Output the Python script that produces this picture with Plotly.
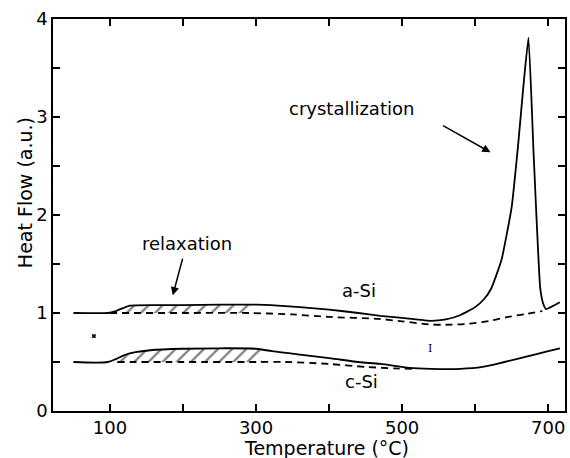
import plotly.graph_objects as go

# a-Si DSC trace
T_a = [50, 97, 108, 118, 127, 160, 200, 250, 300, 330, 360, 400, 440, 470, 500, 540, 560, 580, 600, 612, 622, 636, 650, 659, 666, 673, 680, 689, 693, 697, 706, 716]
H_a = [1.00, 1.00, 1.02, 1.05, 1.075, 1.08, 1.08, 1.085, 1.085, 1.075, 1.06, 1.035, 1.00, 0.97, 0.95, 0.92, 0.935, 0.98, 1.06, 1.14, 1.25, 1.54, 2.08, 2.73, 3.31, 3.81, 2.63, 1.26, 1.10, 1.04, 1.07, 1.11]
# a-Si baseline (dashed)
T_a_base = [100, 200, 290, 350, 400, 468, 500, 536, 560, 591, 620, 645, 670, 692]
H_a_base = [1.00, 1.00, 1.00, 0.985, 0.96, 0.94, 0.915, 0.885, 0.88, 0.89, 0.92, 0.96, 0.99, 1.02]

# c-Si DSC trace
T_c = [50, 97, 108, 120, 135, 155, 200, 250, 300, 322, 360, 400, 440, 470, 510, 540, 580, 610, 640, 670, 700, 716]
H_c = [0.50, 0.50, 0.53, 0.57, 0.60, 0.62, 0.635, 0.64, 0.635, 0.61, 0.575, 0.54, 0.50, 0.48, 0.44, 0.43, 0.43, 0.45, 0.50, 0.555, 0.61, 0.64]
# c-Si baseline (dashed)
T_c_base = [110, 200, 300, 340, 400, 450, 490, 515]
H_c_base = [0.50, 0.50, 0.50, 0.50, 0.48, 0.45, 0.435, 0.43]

# relaxation (hatched) regions
relax_a_T = [105, 115, 127, 160, 200, 250, 295]
relax_a_top = [1.00, 1.04, 1.075, 1.08, 1.08, 1.085, 1.085]
relax_a_bot = [1.00, 1.00, 1.00, 1.00, 1.00, 1.00, 1.00]
relax_c_T = [110, 120, 135, 155, 200, 250, 308]
relax_c_top = [0.51, 0.56, 0.60, 0.62, 0.635, 0.64, 0.63]
relax_c_bot = [0.50, 0.50, 0.50, 0.50, 0.50, 0.50, 0.50]

x_ticks = [100, 300, 500, 700]
x_minor = [200, 400, 600]
y_ticks = [0, 1, 2, 3, 4]
y_minor = [0.5, 1.5, 2.5, 3.5]

FONT = "DejaVu Sans"
LW = 1.8
X_RANGE = [22, 723]
Y_RANGE = [0, 4]

fig = go.Figure()

for T, top, bot in [(relax_a_T, relax_a_top, relax_a_bot), (relax_c_T, relax_c_top, relax_c_bot)]:
    fig.add_trace(go.Scatter(
        x=T + T[::-1], y=top + bot[::-1], mode="lines", fill="toself",
        line=dict(width=0, color="rgba(0,0,0,0)"),
        fillcolor="white",
        fillpattern=dict(shape="/", fgcolor="black", bgcolor="white", size=10, solidity=0.22),
        hoverinfo="skip", showlegend=False))

fig.add_trace(go.Scatter(x=T_a_base, y=H_a_base, mode="lines",
                         line=dict(color="black", width=LW, dash="7px,5px", shape="spline", smoothing=0.8),
                         showlegend=False))
fig.add_trace(go.Scatter(x=T_c_base, y=H_c_base, mode="lines",
                         line=dict(color="black", width=LW, dash="7px,5px", shape="spline", smoothing=0.8),
                         showlegend=False))
fig.add_trace(go.Scatter(x=T_a, y=H_a, mode="lines",
                         line=dict(color="black", width=LW, shape="spline", smoothing=0.4),
                         showlegend=False))
fig.add_trace(go.Scatter(x=T_c, y=H_c, mode="lines",
                         line=dict(color="black", width=LW, shape="spline", smoothing=0.8),
                         showlegend=False))
# small marks
fig.add_trace(go.Scatter(x=[78], y=[0.765], mode="markers",
                         marker=dict(symbol="x", size=4, color="black", line=dict(width=0)),
                         showlegend=False))
# invisible traces to activate the extra tick axes
fig.add_trace(go.Scatter(x=[None], y=[None], xaxis="x2", yaxis="y2", showlegend=False, hoverinfo="skip"))
fig.add_trace(go.Scatter(x=[None], y=[None], xaxis="x3", yaxis="y3", showlegend=False, hoverinfo="skip"))

annos = [
    dict(x=431, y=3.09, text="crystallization", showarrow=False, font=dict(size=18, color="black")),
    dict(x=621, y=2.64, ax=554, ay=2.92, axref="x", ayref="y", text="", showarrow=True,
         arrowhead=2, arrowsize=1.1, arrowwidth=1.5, arrowcolor="black"),
    dict(x=205, y=1.71, text="relaxation", showarrow=False, font=dict(size=18, color="black")),
    dict(x=186, y=1.18, ax=200, ay=1.57, axref="x", ayref="y", text="", showarrow=True,
         arrowhead=2, arrowsize=1.1, arrowwidth=1.5, arrowcolor="black"),
    dict(x=441, y=1.23, text="a-Si", showarrow=False, font=dict(size=18, color="black")),
    dict(x=444, y=0.30, text="c-Si", showarrow=False, font=dict(size=18, color="black")),
    dict(x=538, y=0.64, text="I", showarrow=False, font=dict(size=11, family="DejaVu Serif", color="black")),
    dict(xref="paper", yref="paper", x=0.535, y=-0.094, text="Temperature (°C)",
         showarrow=False, font=dict(size=19, color="black"), yanchor="middle"),
    dict(xref="paper", yref="paper", x=-0.0545, y=0.556, text="Heat Flow (a.u.)",
         showarrow=False, font=dict(size=19, color="black"), textangle=-90, xanchor="center", yanchor="middle"),
]
for a in annos:
    a.setdefault("xref", "x")
    a.setdefault("yref", "y")
    fig.add_annotation(**a)

tick_common = dict(ticks="inside", ticklen=7, tickwidth=1.6, tickcolor="black",
                   showgrid=False, zeroline=False, mirror="allticks")
line_common = dict(showline=True, linecolor="black", linewidth=1.5)

fig.update_layout(
    # major ticks + labels
    xaxis=dict(range=X_RANGE, tickvals=x_ticks, ticktext=[str(v) for v in x_ticks],
               tickfont=dict(size=18, color="black"), **tick_common, **line_common),
    yaxis=dict(range=Y_RANGE, tickvals=y_ticks, ticktext=[str(v) for v in y_ticks],
               tickfont=dict(size=18, color="black"), **tick_common, **line_common),
    # intermediate ticks (unlabelled)
    xaxis3=dict(range=X_RANGE, overlaying="x", anchor="y", showticklabels=False,
                tickvals=x_minor, **tick_common, **line_common),
    yaxis3=dict(range=Y_RANGE, overlaying="y", anchor="x", showticklabels=False,
                tickvals=y_minor, **tick_common, **line_common),
    xaxis2=dict(range=X_RANGE, overlaying="x", side="top", anchor="y", showticklabels=False,
                tickvals=x_ticks + x_minor, **tick_common, **line_common),
    yaxis2=dict(range=Y_RANGE, overlaying="y", side="right", anchor="x", showticklabels=False,
                tickvals=y_ticks + y_minor, **tick_common, **line_common),
    width=570, height=458, margin=dict(l=53, r=3, t=19, b=47),
    plot_bgcolor="white", paper_bgcolor="white",
    font=dict(family=FONT, color="black", size=18), showlegend=False)

fig.write_html("out.html")
